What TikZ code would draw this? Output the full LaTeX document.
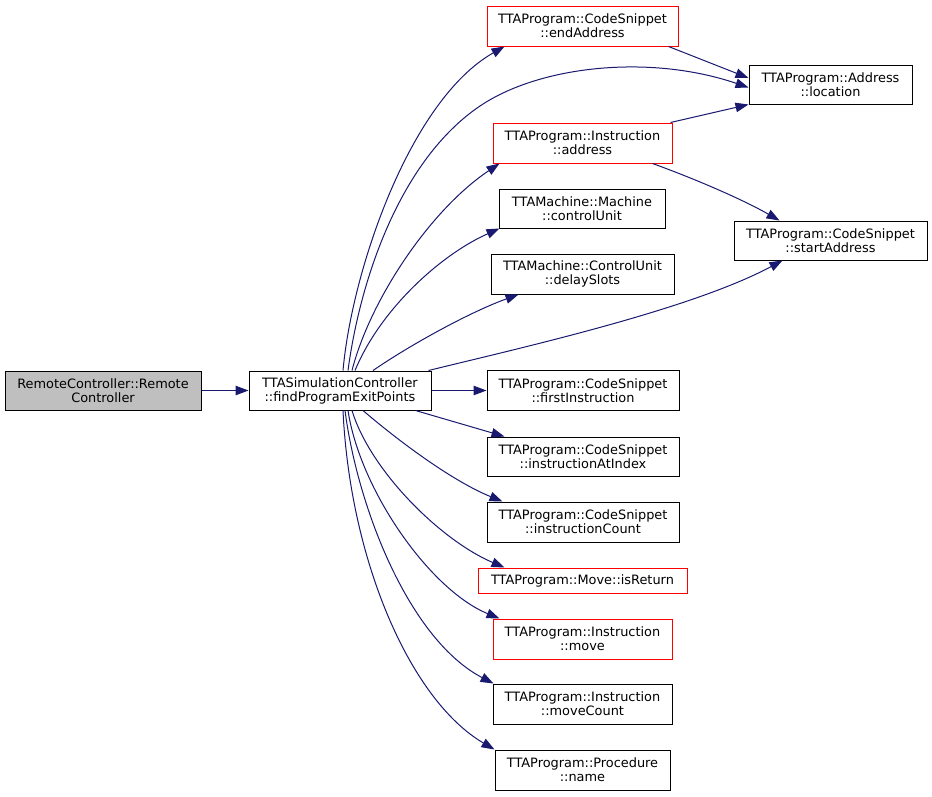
\documentclass[tikz,border=0pt]{standalone}
\usepackage{fontspec}
\setmainfont{DejaVu Sans}
\usetikzlibrary{arrows.meta}
\definecolor{edgecol}{HTML}{191970}
\definecolor{rootfill}{HTML}{BFBFBF}
\definecolor{redline}{HTML}{FF0000}
\begin{document}
\begin{tikzpicture}[x=1pt,y=-1pt,
  fn/.style={draw=black, line width=1pt, inner sep=0pt, align=center,
    font=\fontsize{12.9}{14}\selectfont, fill=white},
  redfn/.style={fn, draw=redline},
  rootfn/.style={fn, fill=rootfill},
  call/.style={draw=edgecol, line width=1pt, -{Triangle[length=13pt,width=9.5pt]}}
]
\fill[white] (0,0) rectangle (932,796);
\useasboundingbox (0,0) rectangle (932,796);

% nodes
\node[rootfn, minimum width=196, minimum height=39] (root) at (103,390.5) {RemoteController::Remote\\Controller};
\node[fn, minimum width=182, minimum height=39] (sim) at (340,390.5) {TTASimulationController\\::findProgramExitPoints};
\node[redfn, minimum width=191, minimum height=40] (endA) at (582.5,26) {TTAProgram::CodeSnippet\\::endAddress};
\node[fn, minimum width=163, minimum height=39] (loc) at (830.5,84.5) {TTAProgram::Address\\::location};
\node[redfn, minimum width=179, minimum height=40] (iaddr) at (582.5,143) {TTAProgram::Instruction\\::address};
\node[fn, minimum width=166, minimum height=39] (cu) at (582,208.5) {TTAMachine::Machine\\::controlUnit};
\node[fn, minimum width=183, minimum height=40] (ds) at (582.5,274) {TTAMachine::ControlUnit\\::delaySlots};
\node[fn, minimum width=193, minimum height=39] (start) at (830.5,240.5) {TTAProgram::CodeSnippet\\::startAddress};
\node[fn, minimum width=192, minimum height=40] (first) at (583,390.5) {TTAProgram::CodeSnippet\\::firstInstruction};
\node[fn, minimum width=192, minimum height=39] (atidx) at (583,456.5) {TTAProgram::CodeSnippet\\::instructionAtIndex};
\node[fn, minimum width=192, minimum height=40] (count) at (583,522) {TTAProgram::CodeSnippet\\::instructionCount};
\node[redfn, minimum width=209, minimum height=25] (isret) at (582.5,580.5) {TTAProgram::Move::isReturn};
\node[redfn, minimum width=179, minimum height=40] (move) at (582.5,639) {TTAProgram::Instruction\\::move};
\node[fn, minimum width=179, minimum height=40] (mcount) at (582.5,704) {TTAProgram::Instruction\\::moveCount};
\node[fn, minimum width=175, minimum height=40] (pname) at (582.5,770) {TTAProgram::Procedure\\::name};

% edges
\draw[call] (root.east) -- (sim.west);
\draw[call] ([xshift=3pt]sim.north) .. controls (352,270) and (410,100) .. ([xshift=18pt]endA.south west);
\draw[call] ([xshift=8pt]sim.north) .. controls (360,280) and (400,160) .. (480,106)
  .. controls (540,65.5) and (650,54) .. ([yshift=17pt]loc.south west);
\draw[call] ([xshift=-10pt]endA.south east) -- ([yshift=-13.5pt]loc.north west);
\draw[call] ([xshift=-2pt]iaddr.north east) -- (loc.south west);
\draw[call] ([xshift=12pt]sim.north) .. controls (370,300) and (430,210) .. ([xshift=7pt]iaddr.south west);
\draw[call] ([xshift=-20pt]iaddr.south east) .. controls (690,177) and (740,198) .. ([xshift=46pt]start.north west);
\draw[call] ([xshift=15pt]sim.north) .. controls (380,310) and (440,255) .. ([xshift=1pt]cu.south west);
\draw[call] ([xshift=33pt]sim.north) .. controls (410,345) and (470,312) .. ([xshift=28pt]ds.south west);
\draw[call] ([xshift=-3pt]sim.north east) .. controls (520,348) and (690,310) .. ([xshift=49pt]start.south west);
\draw[call] (sim.east) -- (first.west);
\draw[call] ([xshift=-16pt]sim.south east) -- ([xshift=18pt]atidx.north west);
\draw[call] ([xshift=23pt]sim.south) .. controls (395,438) and (450,480) .. ([xshift=16pt]count.north west);
\draw[call] ([xshift=12pt]sim.south) .. controls (370,470) and (440,540) .. ([xshift=27pt]isret.north west);
\draw[call] ([xshift=8pt]sim.south) .. controls (360,490) and (430,590) .. ([xshift=7pt]move.north west);
\draw[call] ([xshift=5pt]sim.south) .. controls (358,510) and (410,640) .. ([xshift=1pt]mcount.north west);
\draw[call] ([xshift=3pt]sim.south) .. controls (350,560) and (410,700) .. (pname.north west);
\end{tikzpicture}
\end{document}
